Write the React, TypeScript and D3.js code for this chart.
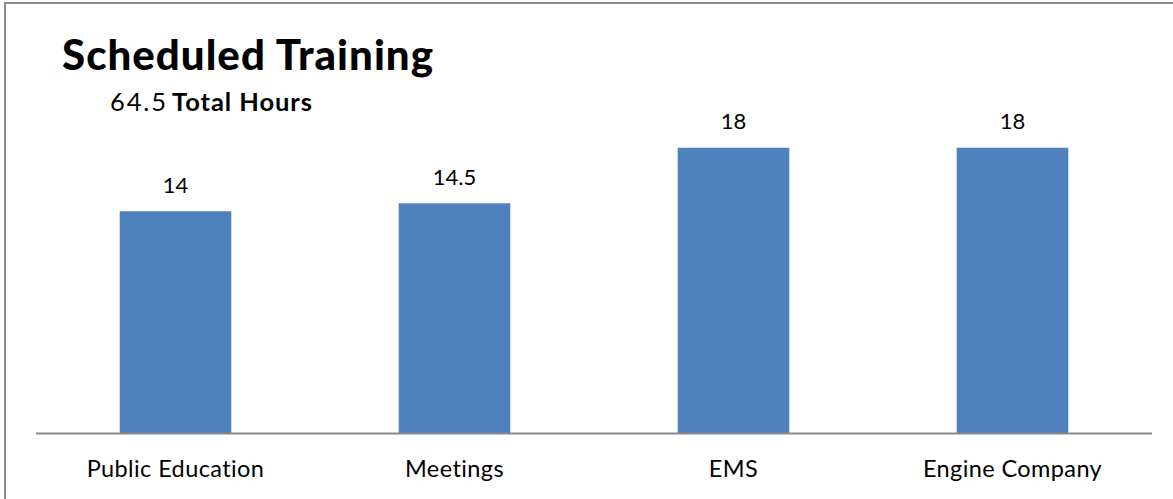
import { useEffect, useRef } from 'react';
import * as d3 from 'd3';

const categories = ['Public Education', 'Meetings', 'EMS', 'Engine Company'];
const hours = [14, 14.5, 18, 18];
const totalHours = 64.5;
const yMax = 20;

const W = 1173;
const H = 499;
const FONT = 'Lato, "Open Sans", sans-serif';

export default function App() {
  const svgRef = useRef<SVGSVGElement>(null);

  useEffect(() => {
    if (!svgRef.current) return;
    const svg = d3.select(svgRef.current);
    svg.selectAll('*').remove();

    const plot = { left: 36, right: 1152, top: 116, bottom: 433.5 };

    const x = d3.scaleBand<string>()
      .domain(categories)
      .range([plot.left, plot.right])
      .paddingInner(0.6)
      .paddingOuter(0.3);

    const y = d3.scaleLinear()
      .domain([0, yMax])
      .range([plot.bottom, plot.top]);

    svg.append('rect')
      .attr('width', W)
      .attr('height', H)
      .attr('fill', '#fff');

    // outer chart border (runs off right/bottom edges)
    svg.append('rect')
      .attr('x', 5)
      .attr('y', 3)
      .attr('width', W + 20)
      .attr('height', H + 20)
      .attr('fill', 'none')
      .attr('stroke', '#8c8c8c')
      .attr('stroke-width', 2);

    svg.append('text')
      .attr('x', 62)
      .attr('y', 70)
      .attr('font-family', FONT)
      .attr('font-weight', 900)
      .attr('font-size', 42)
      .attr('textLength', 371)
      .attr('fill', '#000')
      .text('Scheduled Training');

    // subtitle: total (regular) + "Total Hours" (bold)
    svg.append('text')
      .attr('x', 110)
      .attr('y', 111)
      .attr('font-family', FONT)
      .attr('font-size', 25.5)
      .attr('textLength', 56)
      .attr('fill', '#000')
      .text(String(totalHours));
    svg.append('text')
      .attr('x', 172)
      .attr('y', 111)
      .attr('font-family', FONT)
      .attr('font-weight', 'bold')
      .attr('font-size', 25.5)
      .attr('textLength', 140)
      .attr('fill', '#000')
      .text('Total Hours');

    svg.append('g')
      .selectAll('rect')
      .data(hours)
      .join('rect')
      .attr('x', (_, i) => x(categories[i])!)
      .attr('y', d => y(d))
      .attr('width', x.bandwidth())
      .attr('height', d => y(0) - y(d))
      .attr('fill', '#4f81bd');

    svg.append('g')
      .selectAll('text')
      .data(hours)
      .join('text')
      .attr('x', (_, i) => x(categories[i])! + x.bandwidth() / 2)
      .attr('y', d => y(d) - 18.5)
      .attr('text-anchor', 'middle')
      .attr('font-family', FONT)
      .attr('font-size', 22)
      .attr('fill', '#000')
      .text(d => String(d));

    const xAxis = d3.axisBottom(x).tickSize(0).tickPadding(0);
    svg.append('g')
      .attr('transform', `translate(0,${plot.bottom})`)
      .call(xAxis)
      .call(g => g.select('.domain').attr('stroke', '#898989').attr('stroke-width', 2)
        .attr('d', `M${plot.left},0H${plot.right}`))
      .call(g => g.selectAll('text')
        .attr('dy', null)
        .attr('y', 43.5)
        .attr('font-family', FONT)
        .attr('font-size', 23.5)
        .attr('letter-spacing', 0.4)
        .attr('fill', '#000'));
  }, []);

  return (
    <div style={{ position: 'absolute', left: 0, top: 0 }}>
      <svg ref={svgRef} width={W} height={H} style={{ display: 'block' }} />
    </div>
  );
}
